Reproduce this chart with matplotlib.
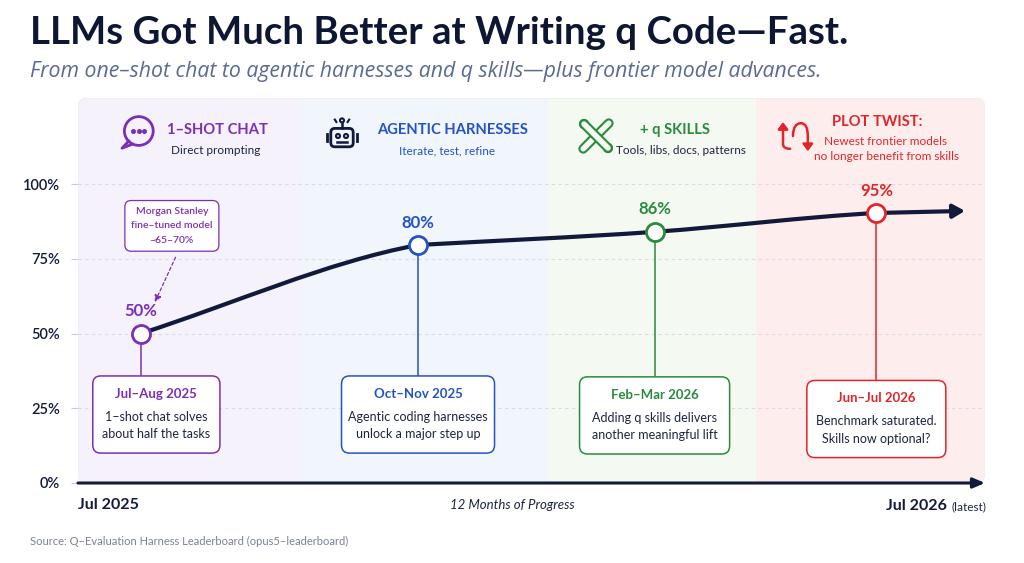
import numpy as np
import matplotlib
matplotlib.use('Agg')
import matplotlib.pyplot as plt
from matplotlib.patches import FancyBboxPatch, FancyArrowPatch, Circle
from matplotlib.path import Path
import matplotlib.patheffects as pe

plt.rcParams['font.family'] = ['Lato', 'DejaVu Sans']

# ---- data ----
phase_names = ['1–SHOT CHAT', 'AGENTIC HARNESSES', '+ q SKILLS', 'PLOT TWIST:']
phase_subs = ['Direct prompting', 'Iterate, test, refine', 'Tools, libs, docs, patterns',
              'Newest frontier models\nno longer benefit from skills']
phase_edges = [0, 3.03, 6.36, 9.17, 12.27]   # months since Jul 2025
point_months = [0.85, 4.6, 7.8, 10.8]
point_values = [50, 79.6, 84, 90.3]           # plotted height of each marker
point_labels = ['50%', '80%', '86%', '95%']
trend_end_month = 12.0
trend_end_value = 91
box_titles = ['Jul–Aug 2025', 'Oct–Nov 2025', 'Feb–Mar 2026', 'Jun–Jul 2026']
box_texts = ['1–shot chat solves\nabout half the tasks',
             'Agentic coding harnesses\nunlock a major step up',
             'Adding q skills delivers\nanother meaningful lift',
             'Benchmark saturated.\nSkills now optional?']
y_ticks = [0, 25, 50, 75, 100]
y_tick_labels = ['0%', '25%', '50%', '75%', '100%']

# ---- style ----
NAVY = '#111a3b'
colors = ['#7b2fb8', '#2453c4', '#2b8a3e', '#e0262a']
tints = ['#f6f2fb', '#f1f5fc', '#f4f9f2', '#fdeeed']
box_centers = [1.06, 4.6, 7.8, 10.8]
box_widths = [1.72, 2.07, 2.03, 1.88]
box_tops = [35.8, 35.8, 35.5, 34.3]
box_height = 25.8

W, H = 1024, 563
fig = plt.figure(figsize=(W / 100, H / 100), dpi=100)
fig.patch.set_facecolor('white')


def fx(px):
    return px / W


def fy(py):
    return 1 - py / H


ax_left, ax_right, ax_top, ax_bot = 78, 985, 98, 483
ax = fig.add_axes([fx(ax_left), fy(ax_bot), fx(ax_right - ax_left), (ax_bot - ax_top) / H])
ymax = (ax_bot - ax_top) / 2.99
ax.set_xlim(0, phase_edges[-1])
ax.set_ylim(0, ymax)
for s in ax.spines.values():
    s.set_visible(False)
ax.set_facecolor('none')

px_per_x = (ax_right - ax_left) / phase_edges[-1]
px_per_y = (ax_bot - ax_top) / ymax
aspect = px_per_x / px_per_y

# rounded panel background
frame = FancyBboxPatch((0, 0), phase_edges[-1], ymax,
                       boxstyle='round,pad=0,rounding_size=%f' % (10 / px_per_x),
                       mutation_aspect=aspect, facecolor='none', edgecolor='#eceef4',
                       lw=0.8, zorder=1)
ax.add_patch(frame)
for i in range(4):
    span = ax.axvspan(phase_edges[i], phase_edges[i + 1], color=tints[i], lw=0, zorder=0)
    span.set_clip_path(frame)

# grid and ticks
for v in y_ticks[1:]:
    ax.plot([0, phase_edges[-1]], [v, v], ls=(0, (3, 3)), color='#d9dce4', lw=0.8, zorder=1)
ax.set_yticks(y_ticks)
ax.set_yticklabels(y_tick_labels, fontsize=10.5, fontweight='semibold', color=NAVY)
ax.tick_params(axis='y', length=5, color='#c9ccd6', pad=8)
ax.set_xticks([])

# x axis arrow
ax.annotate('', xy=(phase_edges[-1], 0), xytext=(0, 0),
            arrowprops=dict(arrowstyle='-|>,head_length=0.7,head_width=0.3', color=NAVY, lw=2.2,
                            shrinkA=0, shrinkB=0), zorder=5, annotation_clip=False)

# smooth trend line through the points (bezier segments)
xs = np.array(point_months + [trend_end_month], dtype=float)
ys = np.array(point_values + [trend_end_value], dtype=float)
h = np.diff(xs)
d = np.diff(ys) / h
m_in = np.zeros(len(xs))
m_out = np.zeros(len(xs))
m_out[0] = d[0]
m_in[-1] = d[-1]
for i in range(1, len(xs) - 1):
    m_in[i] = (d[i - 1] + d[i]) / 2
    m_out[i] = min(m_in[i], d[i])
verts = [(xs[0], ys[0])]
codes = [Path.MOVETO]
for i in range(len(xs) - 1):
    verts += [(xs[i] + h[i] / 3, ys[i] + m_out[i] * h[i] / 3),
              (xs[i + 1] - h[i] / 3, ys[i + 1] - m_in[i + 1] * h[i] / 3),
              (xs[i + 1], ys[i + 1])]
    codes += [Path.CURVE4] * 3
trend = FancyArrowPatch(path=Path(verts, codes), arrowstyle='-|>,head_length=7,head_width=4',
                        color=NAVY, lw=3, transform=ax.transData, zorder=4)
ax.add_patch(trend)

# stems, markers, labels, boxes
for i in range(4):
    c = colors[i]
    ax.plot([point_months[i]] * 2, [box_tops[i], point_values[i]], color=c, lw=1.1, zorder=3)
    ax.plot(point_months[i], point_values[i], 'o', ms=13, mfc='white', mec=c, mew=2, zorder=6)
    ax.text(point_months[i], point_values[i] + 7.5, point_labels[i], ha='center', va='center',
            fontsize=12, fontweight='bold', color=c, zorder=6)
    bw = box_widths[i]
    bc = box_centers[i]
    box = FancyBboxPatch((bc - bw / 2, box_tops[i] - box_height), bw, box_height,
                         boxstyle='round,pad=0,rounding_size=%f' % (8 / px_per_x),
                         mutation_aspect=aspect, facecolor='white', edgecolor=c, lw=1.1, zorder=5)
    ax.add_patch(box)
    ax.text(bc, box_tops[i] - 6, box_titles[i], ha='center', va='center',
            fontsize=9.5, fontweight='bold', color=c, zorder=6)
    ax.text(bc, box_tops[i] - 16.6, box_texts[i], ha='center', va='center',
            fontsize=9, color='#1d2440', linespacing=1.55, zorder=6)

# Morgan Stanley note
ax.text(1.27, 86.0, 'Morgan Stanley\nfine–tuned model\n~65–70%', ha='center', va='center',
        fontsize=7.5, fontweight='semibold', color=colors[0], linespacing=1.8, zorder=6,
        bbox=dict(boxstyle='round,pad=0.6,rounding_size=0.6', fc='white', ec=colors[0], lw=0.9))
ax.annotate('', xy=(1.04, 60.5), xytext=(1.32, 75.5),
            arrowprops=dict(arrowstyle='-|>,head_length=0.4,head_width=0.2', color=colors[0], lw=0.9,
                            ls=(0, (2.5, 2)), shrinkA=0, shrinkB=0), zorder=6)

# headers
head_cx = [217, 453, 675, 877]
for i in range(3):
    fig.text(fx(head_cx[i]), fy(130), phase_names[i], ha='center', va='center',
             fontsize=10.6, fontweight='bold', color=colors[i])
sub_cols = ['#1d2440', colors[1], '#1d2440']
sub_cx = [216, 447, 681]
for i in range(3):
    fig.text(fx(sub_cx[i]), fy(151), phase_subs[i], ha='center', va='center',
             fontsize=8.5, color=sub_cols[i])
fig.text(fx(877), fy(122), phase_names[3], ha='center', va='center',
         fontsize=10.6, fontweight='bold', color=colors[3])
fig.text(fx(886), fy(149), phase_subs[3], ha='center', va='center',
         fontsize=8.5, color=colors[3], linespacing=1.45)


# icons
def icon_axes(cx, cy, size=40):
    a = fig.add_axes([fx(cx - size / 2), fy(cy + size / 2), size / W, size / H])
    a.set_xlim(0, 1)
    a.set_ylim(0, 1)
    a.axis('off')
    return a


a = icon_axes(138, 133)
a.add_patch(Circle((0.52, 0.55), 0.36, fill=False, ec=colors[0], lw=2))
a.plot([0.27, 0.1, 0.36], [0.3, 0.12, 0.22], color=colors[0], lw=2, solid_joinstyle='round')
a.plot([0.38, 0.52, 0.66], [0.55, 0.55, 0.55], 'o', ms=2.6, color=colors[0])

a = icon_axes(342, 134)
a.add_patch(FancyBboxPatch((0.22, 0.18), 0.56, 0.46, boxstyle='round,pad=0,rounding_size=0.1',
                           fill=False, ec=NAVY, lw=2))
a.add_patch(Circle((0.4, 0.45), 0.05, fill=False, ec=NAVY, lw=1.5))
a.add_patch(Circle((0.6, 0.45), 0.05, fill=False, ec=NAVY, lw=1.5))
a.plot([0.38, 0.62], [0.3, 0.3], color=NAVY, lw=1.8)
a.plot([0.12, 0.12], [0.33, 0.5], color=NAVY, lw=2)
a.plot([0.88, 0.88], [0.33, 0.5], color=NAVY, lw=2)
a.plot([0.5, 0.5], [0.64, 0.78], color=NAVY, lw=1.8)
a.add_patch(Circle((0.5, 0.84), 0.05, fill=False, ec=NAVY, lw=1.5))
a.plot([0.32, 0.36], [0.86, 0.8], color=NAVY, lw=1.5)
a.plot([0.68, 0.64], [0.86, 0.8], color=NAVY, lw=1.5)

a = icon_axes(596, 136)
outline = [pe.Stroke(linewidth=7, foreground=colors[2]), pe.Normal()]
a.plot([0.18, 0.82], [0.18, 0.82], color=tints[2], lw=4, solid_capstyle='round', path_effects=outline)
a.plot([0.2, 0.8], [0.8, 0.2], color=tints[2], lw=4, solid_capstyle='round', path_effects=outline)
a.add_patch(Circle((0.8, 0.2), 0.1, fill=False, ec=colors[2], lw=1.6))
a.add_patch(Circle((0.2, 0.8), 0.1, fill=False, ec=colors[2], lw=1.6))

a = icon_axes(795, 136)
up = Path([(0.38, 0.18), (0.2, 0.18), (0.2, 0.3), (0.2, 0.85)],
          [Path.MOVETO, Path.CURVE3, Path.CURVE3, Path.LINETO])
a.add_patch(FancyArrowPatch(path=up, arrowstyle='-|>,head_length=4,head_width=3', color=colors[3], lw=1.8))
down = Path([(0.45, 0.5), (0.45, 0.82), (0.65, 0.82), (0.82, 0.82), (0.82, 0.5), (0.82, 0.12)],
            [Path.MOVETO, Path.CURVE3, Path.CURVE3, Path.CURVE3, Path.CURVE3, Path.LINETO])
a.add_patch(FancyArrowPatch(path=down, arrowstyle='-|>,head_length=4,head_width=3', color=colors[3], lw=1.8))

# titles and axis captions
fig.text(fx(30), fy(33), 'LLMs Got Much Better at Writing q Code—Fast.', ha='left', va='center',
         fontsize=27.6, fontweight='bold', color='#0d1633')
fig.text(fx(30), fy(72), 'From one–shot chat to agentic harnesses and q skills—plus frontier model advances.',
         ha='left', va='center', fontsize=15.3, fontstyle='italic', color='#5b6a92',
         family=['Open Sans', 'DejaVu Sans'])
fig.text(fx(78), fy(505), 'Jul 2025', ha='left', va='center', fontsize=11.5, fontweight='bold', color=NAVY)
fig.text(fx(512), fy(505), '12 Months of Progress', ha='center', va='center', fontsize=9.5,
         fontstyle='italic', color='#1d2440')
fig.text(fx(947), fy(510), 'Jul 2026', ha='right', va='baseline', fontsize=11.5, fontweight='bold', color=NAVY)
fig.text(fx(952), fy(510), '(latest)', ha='left', va='baseline', fontsize=8.5, color='#1d2440')
fig.text(fx(30), fy(541), 'Source: Q–Evaluation Harness Leaderboard (opus5–leaderboard)', ha='left',
         va='center', fontsize=8, color='#7a8196')

fig.savefig('out.png', dpi=100)
